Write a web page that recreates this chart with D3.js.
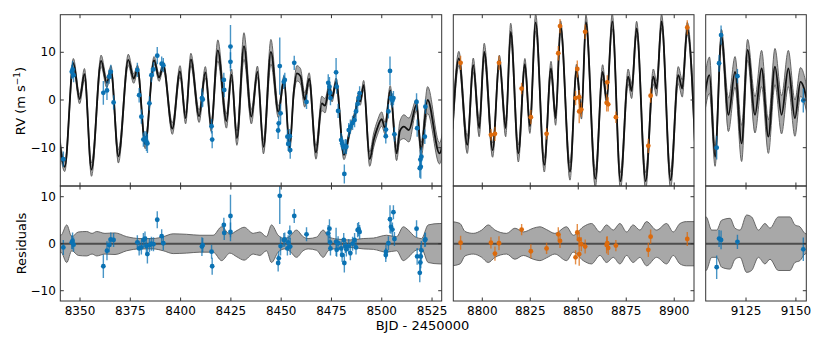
<!DOCTYPE html>
<meta charset="utf-8">
<style>
    body { margin: 0; background: #fff; }
    text { font-family: "DejaVu Sans", sans-serif; fill: #000; }
</style>
<body>
<script src="https://d3js.org/d3.v7.min.js"></script>
<script>
// RV points per season: [BJD - 2450000, RV, error, residual]
var season1 = [
    [8341.7, -12.4, 1.6, -0.8], [8345.9, 5.9, 1.5, 0.3], [8346.3, 6.4, 1.8, 0.6], [8346.8, 5.2, 1.5, -0.2],
    [8361.6, 1.5, 2.5, -4.8], [8363.4, 2.0, 2.0, -1.5], [8364.5, 4.9, 1.5, -0.3], [8365.3, 5.9, 1.5, 0.9],
    [8366.7, -0.5, 1.5, 0.8], [8378.5, 6.3, 1.5, 0.3], [8379.4, 1.0, 1.5, -1.0], [8380.5, -3.5, 1.5, -0.8],
    [8381.5, -8.3, 1.5, 0.8], [8382.3, -8.0, 1.5, 1.1], [8383.0, -8.7, 2.0, -0.5], [8383.5, -9.1, 2.0, -2.2],
    [8384.5, -0.7, 1.5, -0.3], [8385.5, 5.2, 1.5, 0.0], [8386.5, 6.4, 1.5, -0.1], [8388.4, 9.3, 1.8, 5.1],
    [8390.6, 7.6, 1.5, 1.6], [8391.4, 7.3, 1.5, 0.1], [8410.6, 0.4, 2.0, -0.6], [8411.0, 0.1, 1.5, -0.3],
    [8415.4, -5.5, 1.5, -1.7], [8415.7, -8.3, 1.8, -4.8], [8421.5, 4.2, 1.5, 4.0], [8421.7, 2.1, 1.5, 2.3],
    [8424.8, 11.2, 4.5, 5.9], [8424.8, 8.0, 2.0, 2.5], [8448.5, -6.4, 1.8, -4.1], [8448.8, -4.9, 1.5, -3.1],
    [8449.3, 7.1, 6.0, 10.2], [8449.7, -2.8, 2.0, -0.5], [8451.3, 3.8, 1.5, 0.8], [8451.8, 4.2, 1.5, 0.9],
    [8453.1, -7.7, 1.5, -1.0], [8453.5, -9.2, 1.5, 0.3], [8454.3, -7.6, 1.5, 2.4], [8454.5, -10.5, 1.8, -0.6],
    [8456.5, 7.8, 1.5, 5.9], [8462.6, -0.4, 1.5, 2.0], [8473.4, 3.6, 1.8, 2.2], [8474.0, 2.8, 2.0, 3.2],
    [8474.3, 1.5, 1.5, 0.3], [8474.5, 0.4, 1.5, -1.0], [8477.3, 5.8, 3.0, 0.4], [8477.6, 2.8, 1.5, -1.3],
    [8478.3, -2.3, 1.5, 0.1], [8479.8, -8.4, 1.5, -1.0], [8480.3, -9.1, 1.5, -2.4], [8481.1, -9.9, 1.5, 0.8],
    [8481.4, -15.5, 2.0, -4.1], [8481.9, -9.7, 1.5, -0.5], [8482.4, -9.8, 1.5, -1.2], [8483.6, -6.3, 1.5, -0.5],
    [8484.4, -5.6, 1.5, -2.0], [8485.5, -4.8, 1.5, 0.0], [8486.5, -4.2, 1.5, 0.8], [8487.2, -2.4, 1.5, -0.8],
    [8488.0, -0.8, 1.5, 2.9], [8488.5, 0.4, 1.5, 3.1], [8489.0, 1.4, 1.5, 2.5], [8502.0, -7.6, 1.5, -2.4],
    [8502.1, -6.2, 1.5, -1.7], [8503.3, -2.4, 1.5, 0.1], [8504.1, 6.1, 3.0, 5.2], [8504.6, 0.4, 1.5, 3.6],
    [8505.3, -0.1, 1.5, 3.0], [8505.8, 0.4, 1.5, 6.7], [8506.3, -7.2, 1.5, 1.0], [8517.3, -0.4, 1.8, 3.2],
    [8517.6, -5.9, 1.8, -2.7], [8518.9, -14.3, 2.0, -6.2], [8519.2, -12.5, 2.0, -4.0], [8519.4, -14.0, 2.5, -2.7],
    [8519.7, -11.9, 2.0, -1.4], [8521.4, -7.7, 1.5, 0.8], [8521.7, -1.4, 1.5, 0.9]
];
var season2 = [
    [8788.7, 7.8, 1.5, 0.2], [8804.5, -7.3, 1.2, 0.2], [8806.6, -7.1, 1.5, -2.1], [8808.7, 7.8, 1.5, 0.1],
    [8820.5, 2.4, 1.2, 3.0], [8825.3, -3.6, 1.5, -1.6], [8833.5, -7.1, 1.2, -1.0], [8839.6, 9.8, 1.5, 2.0],
    [8840.5, 15.5, 1.5, 0.6], [8848.6, 0.4, 1.5, -2.9], [8849.5, 6.5, 1.8, 2.4], [8850.5, 0.6, 1.5, 0.9],
    [8850.5, -2.4, 2.5, -2.2], [8851.6, -2.0, 1.5, -0.1], [8853.6, 14.3, 1.5, -0.6], [8864.8, -0.6, 1.8, -0.3],
    [8865.1, 3.7, 1.5, 0.1], [8865.6, -0.9, 1.5, -0.9], [8869.6, -3.6, 1.2, -0.4], [8886.5, -9.6, 1.5, -1.3],
    [8887.7, 0.9, 1.5, 1.5], [8906.8, 15.2, 1.5, 1.0]
];
var season3 = [
    [9110.3, -10.0, 2.5, -5.0], [9111.5, 7.7, 1.8, 1.1], [9112.5, 13.6, 2.0, 0.8],
    [9120.7, 5.0, 1.5, 0.4], [9153.7, -0.1, 2.5, -1.2]
];

// GP model: [time, mean, 1-sigma] at turning points
var model1 = [
    [8339.5, -7.5, 1.5], [8342.4, -14.0, 1.0], [8346.7, 7.7, 1.0], [8349.8, 0.2, 1.0], [8352.2, 5.4, 1.2],
    [8355.7, -14.6, 1.4], [8360.5, 8.2, 1.2], [8363.3, 3.6, 1.0], [8365.4, 6.2, 1.0], [8369.1, -11.8, 1.4],
    [8374.0, 8.4, 1.2], [8376.7, 4.5, 1.0], [8378.6, 6.5, 0.8], [8382.4, -9.2, 1.0], [8386.8, 8.3, 0.8],
    [8389.3, 4.7, 0.8], [8391.4, 7.2, 0.8], [8395.9, -6.0, 1.2], [8399.7, 6.0, 1.2], [8402.5, -3.8, 1.2],
    [8405.1, 8.5, 1.3], [8409.2, -3.4, 1.3], [8412.3, 5.8, 1.2], [8415.2, -5.6, 1.0], [8418.5, 10.4, 2.2],
    [8422.8, -4.4, 1.5], [8425.3, 5.3, 1.2], [8428.0, -8.0, 1.5], [8431.5, 11.3, 2.8], [8435.2, -3.5, 1.5],
    [8438.2, 5.9, 1.2], [8441.2, -9.8, 1.5], [8444.9, 10.1, 2.6], [8448.6, -2.5, 1.2], [8451.4, 4.2, 0.8],
    [8454.2, -10.0, 1.0], [8456.3, 1.8, 1.0], [8457.8, 5.6, 1.6], [8459.6, 5.0, 1.6], [8461.7, 0.0, 1.5],
    [8463.9, 4.5, 1.2], [8467.3, -11.0, 1.4], [8470.2, -0.7, 1.5], [8471.8, -1.2, 1.5], [8474.0, 2.8, 0.8],
    [8475.3, 0.4, 0.8], [8477.3, 3.8, 0.8], [8481.2, -11.5, 1.0], [8484.4, -6.0, 0.8], [8486.8, -2.8, 0.8],
    [8488.3, 0.4, 0.8], [8489.3, -0.3, 0.8], [8491.0, 3.1, 1.0], [8494.0, -12.4, 1.5], [8496.0, -8.4, 1.5],
    [8497.7, -6.0, 1.5], [8500.0, -4.0, 1.5], [8501.6, -5.9, 1.2], [8504.2, 2.0, 1.0], [8507.4, -11.2, 1.5],
    [8509.0, -6.5, 2.0], [8511.0, -5.6, 2.5], [8513.5, -6.3, 2.5], [8517.3, -1.0, 1.2], [8519.5, -10.5, 1.5],
    [8522.8, 0.0, 2.8], [8528.7, -11.2, 2.2], [8531.0, -7.0, 2.5]
];
var model2 = [
    [8784.5, -6.0, 2.0], [8787.8, 8.7, 1.5], [8792.2, -9.4, 1.8], [8795.3, 7.3, 1.5], [8798.4, -5.9, 1.8],
    [8801.0, 10.1, 1.8], [8805.4, -10.5, 1.5], [8808.9, 8.2, 1.2], [8812.2, -5.9, 1.8], [8814.8, 14.3, 1.8],
    [8818.8, -11.2, 1.8], [8822.2, 7.5, 1.2], [8824.8, -5.5, 1.5], [8827.8, 16.2, 1.8], [8832.3, -13.6, 1.5],
    [8835.8, 6.6, 1.5], [8838.2, -3.8, 1.5], [8840.8, 15.4, 1.2], [8845.7, -15.0, 1.8], [8849.1, 6.3, 1.2],
    [8851.7, -2.8, 1.2], [8854.0, 16.3, 1.5], [8858.9, -16.5, 1.8], [8862.7, 5.9, 1.5], [8864.8, 0.0, 1.0],
    [8867.7, 16.5, 1.6], [8872.0, -17.0, 1.8], [8876.0, 4.9, 1.6], [8877.8, 1.9, 1.6], [8880.4, 15.0, 1.5],
    [8885.1, -17.0, 1.8], [8889.1, 4.9, 1.6], [8890.8, 2.4, 1.6], [8893.4, 16.5, 1.5], [8898.1, -16.8, 1.8],
    [8902.1, 5.2, 1.8], [8904.2, 2.4, 1.8], [8906.8, 15.0, 1.3], [8911.5, -16.0, 2.0]
];
var model3 = [
    [9104.0, 0.0, 3.5], [9106.7, 5.2, 3.8], [9109.5, -11.9, 2.0], [9112.7, 13.3, 1.5], [9116.2, -3.1, 3.5],
    [9119.5, 5.9, 3.2], [9122.8, -9.1, 3.8], [9125.8, 10.5, 2.2], [9129.5, -3.1, 3.8], [9132.8, 6.6, 3.8],
    [9136.2, -7.7, 3.5], [9139.5, 7.0, 3.8], [9142.8, -3.1, 4.0], [9146.2, 6.6, 3.8], [9149.5, -3.8, 3.8],
    [9152.3, 3.8, 3.0], [9156.0, -1.0, 2.5]
];

// residual band half-width: [time, width]
var resBand1 = [
    [8339.5, 1.8], [8340.5, 1.8], [8343.4, 4.0], [8345.9, 1.5], [8349.2, 2.5], [8353.3, 2.6], [8356.0, 2.2],
    [8358.3, 2.6], [8362.4, 2.2], [8367.4, 2.3], [8373.2, 1.5], [8379.8, 1.1], [8386.4, 1.1], [8391.4, 1.5],
    [8396.3, 2.1], [8403.0, 2.0], [8409.6, 1.8], [8416.2, 1.8], [8420.4, 3.6], [8424.5, 2.0], [8428.0, 2.8],
    [8431.6, 3.5], [8436.1, 2.2], [8439.4, 2.5], [8442.7, 1.5], [8445.2, 4.0], [8448.5, 1.8], [8451.8, 1.1],
    [8454.3, 1.6], [8457.6, 2.9], [8460.9, 1.5], [8463.4, 1.1], [8467.6, 1.4], [8470.9, 2.9], [8473.4, 1.5],
    [8477.6, 1.0], [8484.2, 0.8], [8490.8, 1.1], [8495.8, 1.2], [8502.4, 1.8], [8507.4, 1.5], [8510.7, 3.6],
    [8513.2, 2.9], [8516.5, 1.5], [8519.8, 1.1], [8523.1, 4.0], [8528.9, 4.3], [8531.0, 4.3]
];
var resBand2 = [
    [8784.0, 4.7], [8788.4, 4.3], [8791.0, 2.6], [8795.3, 2.2], [8799.7, 2.9], [8803.1, 4.0], [8806.6, 2.9],
    [8812.7, 2.2], [8817.0, 3.3], [8821.4, 2.5], [8826.6, 3.3], [8830.0, 3.6], [8833.5, 3.0], [8837.8, 2.2],
    [8843.9, 3.6], [8847.4, 1.8], [8852.6, 3.6], [8856.9, 4.3], [8861.3, 2.5], [8864.8, 4.0], [8868.2, 2.9],
    [8871.7, 4.3], [8875.2, 2.5], [8878.6, 4.0], [8882.1, 2.9], [8885.6, 4.7], [8890.8, 2.9], [8896.0, 4.3],
    [8899.5, 2.5], [8903.0, 4.3], [8906.4, 4.7], [8911.0, 4.7]
];
var resBand3 = [
    [9104.0, 5.7], [9105.0, 5.7], [9107.8, 2.9], [9110.3, 2.9], [9112.8, 5.0], [9117.0, 5.4], [9119.5, 3.3],
    [9122.0, 2.9], [9125.3, 6.1], [9127.8, 5.7], [9131.2, 2.9], [9134.5, 4.3], [9137.0, 3.3], [9141.2, 5.7],
    [9147.0, 5.7], [9149.5, 4.0], [9152.0, 3.6], [9154.5, 2.2], [9156.0, 2.0]
];

var xTicks1 = [8350, 8375, 8400, 8425, 8450, 8475, 8500, 8525],
    xTicks2 = [8800, 8825, 8850, 8875, 8900],
    xTicks3 = [9125, 9150],
    yTicks = [-10, 0, 10];

var blue = "#0b72b3", orange = "#dc6a0c";

var width = 830, height = 338,
    rvTop = 14.7, rvBottom = 186, resBottom = 301,
    tick = 3.5;

var panels = [
    { domain: [8340.2, 8529.8], left: 60.3, right: 441.7, ticks: xTicks1, data: season1, model: model1, band: resBand1, color: blue },
    { domain: [8784.9, 8910.3], left: 453.3, right: 694, ticks: xTicks2, data: season2, model: model2, band: resBand2, color: orange },
    { domain: [9104.8, 9155.2], left: 705.7, right: 806.3, ticks: xTicks3, data: season3, model: model3, band: resBand3, color: blue }
];

var yRV = d3.scaleLinear().domain([-18.03, 17.88]).range([rvBottom, rvTop]);
var yRes = d3.scaleLinear().domain([-12.19, 12.28]).range([resBottom, rvBottom]);

var svg = d3.select("body").append("svg")
    .attr("width", width)
    .attr("height", height);

panels.forEach(function (p, i) {
    var x = d3.scaleLinear().domain(p.domain).range([p.left, p.right]);

    var clipRV = "clip-rv-" + i, clipRes = "clip-res-" + i;
    svg.append("clipPath").attr("id", clipRV).append("rect")
        .attr("x", p.left).attr("y", rvTop).attr("width", p.right - p.left).attr("height", rvBottom - rvTop);
    svg.append("clipPath").attr("id", clipRes).append("rect")
        .attr("x", p.left).attr("y", rvBottom).attr("width", p.right - p.left).attr("height", resBottom - rvBottom);

    // --- RV panel
    var g = svg.append("g").attr("clip-path", "url(#" + clipRV + ")");

    var band = d3.area()
        .x(function (d) { return x(d[0]); })
        .y0(function (d) { return yRV(d[1] - d[2]); })
        .y1(function (d) { return yRV(d[1] + d[2]); })
        .curve(d3.curveMonotoneX);
    g.append("path").datum(p.model).attr("d", band).attr("fill", "#a8a8a8");

    [-1, 1].forEach(function (s) {
        g.append("path").datum(p.model)
            .attr("d", d3.line()
                .x(function (d) { return x(d[0]); })
                .y(function (d) { return yRV(d[1] + s * d[2]); })
                .curve(d3.curveMonotoneX))
            .attr("fill", "none").attr("stroke", "#5a5a5a").attr("stroke-width", 0.9);
    });

    g.append("path").datum(p.model)
        .attr("d", d3.line()
            .x(function (d) { return x(d[0]); })
            .y(function (d) { return yRV(d[1]); })
            .curve(d3.curveMonotoneX))
        .attr("fill", "none").attr("stroke", "#111").attr("stroke-width", 1.8);

    g.selectAll(".err").data(p.data).enter().append("line")
        .attr("x1", function (d) { return x(d[0]); })
        .attr("x2", function (d) { return x(d[0]); })
        .attr("y1", function (d) { return yRV(d[1] - d[2]); })
        .attr("y2", function (d) { return yRV(d[1] + d[2]); })
        .attr("stroke", p.color).attr("stroke-opacity", 0.75).attr("stroke-width", 1.4);
    g.selectAll(".pt").data(p.data).enter().append("circle")
        .attr("cx", function (d) { return x(d[0]); })
        .attr("cy", function (d) { return yRV(d[1]); })
        .attr("r", 2.4).attr("fill", p.color);

    // --- residual panel
    var r = svg.append("g").attr("clip-path", "url(#" + clipRes + ")");

    r.append("path").datum(p.band)
        .attr("d", d3.area()
            .x(function (d) { return x(d[0]); })
            .y0(function (d) { return yRes(-d[1]); })
            .y1(function (d) { return yRes(d[1]); })
            .curve(d3.curveMonotoneX))
        .attr("fill", "#a8a8a8");
    [-1, 1].forEach(function (s) {
        r.append("path").datum(p.band)
            .attr("d", d3.line()
                .x(function (d) { return x(d[0]); })
                .y(function (d) { return yRes(s * d[1]); })
                .curve(d3.curveMonotoneX))
            .attr("fill", "none").attr("stroke", "#5a5a5a").attr("stroke-width", 0.9);
    });
    r.append("line")
        .attr("x1", p.left).attr("x2", p.right)
        .attr("y1", yRes(0)).attr("y2", yRes(0))
        .attr("stroke", "#4d4d4d").attr("stroke-width", 2);

    r.selectAll(".err").data(p.data).enter().append("line")
        .attr("x1", function (d) { return x(d[0]); })
        .attr("x2", function (d) { return x(d[0]); })
        .attr("y1", function (d) { return yRes(d[3] - d[2]); })
        .attr("y2", function (d) { return yRes(d[3] + d[2]); })
        .attr("stroke", p.color).attr("stroke-opacity", 0.75).attr("stroke-width", 1.4);
    r.selectAll(".pt").data(p.data).enter().append("circle")
        .attr("cx", function (d) { return x(d[0]); })
        .attr("cy", function (d) { return yRes(d[3]); })
        .attr("r", 2.4).attr("fill", p.color);

    // --- frames and ticks
    var frame = svg.append("g").attr("stroke", "#333").attr("stroke-width", 1).attr("fill", "none");
    frame.append("rect").attr("x", p.left).attr("y", rvTop)
        .attr("width", p.right - p.left).attr("height", rvBottom - rvTop);
    frame.append("rect").attr("x", p.left).attr("y", rvBottom)
        .attr("width", p.right - p.left).attr("height", resBottom - rvBottom);

    p.ticks.forEach(function (t) {
        var tx = x(t);
        [[rvTop, 1], [rvBottom, -1], [rvBottom, 1], [resBottom, -1]].forEach(function (e) {
            frame.append("line").attr("x1", tx).attr("x2", tx)
                .attr("y1", e[0]).attr("y2", e[0] + e[1] * tick);
        });
        svg.append("text").attr("x", tx).attr("y", 314.5)
            .attr("text-anchor", "middle").attr("font-size", 12).text(t);
    });

    yTicks.forEach(function (v) {
        [yRV(v), yRes(v)].forEach(function (ty) {
            frame.append("line").attr("x1", p.right).attr("x2", p.right - tick)
                .attr("y1", ty).attr("y2", ty);
            if (i === 0) {
                frame.append("line").attr("x1", p.left).attr("x2", p.left + tick)
                    .attr("y1", ty).attr("y2", ty);
            }
        });
        if (i === 0) {
            var lab = v < 0 ? "\u2212" + Math.abs(v) : String(v);
            svg.append("text").attr("x", p.left - 4.5).attr("y", yRV(v)).attr("dy", "0.35em")
                .attr("text-anchor", "end").attr("font-size", 12).text(lab);
            svg.append("text").attr("x", p.left - 4.5).attr("y", yRes(v)).attr("dy", "0.35em")
                .attr("text-anchor", "end").attr("font-size", 12).text(lab);
        }
    });
});

// axis labels
var rvLabel = svg.append("text")
    .attr("transform", "translate(20,101) rotate(-90)")
    .attr("dy", "0.35em").attr("text-anchor", "middle").attr("font-size", 13);
rvLabel.append("tspan").text("RV (m s");
rvLabel.append("tspan").attr("dy", -5).attr("font-size", 9).text("\u22121");
rvLabel.append("tspan").attr("dy", 5).text(")");

svg.append("text")
    .attr("transform", "translate(21,243.5) rotate(-90)")
    .attr("dy", "0.35em").attr("text-anchor", "middle").attr("font-size", 13)
    .text("Residuals");

svg.append("text").attr("x", 422.5).attr("y", 329.5)
    .attr("text-anchor", "middle").attr("font-size", 13)
    .text("BJD - 2450000");
</script>
</body>
